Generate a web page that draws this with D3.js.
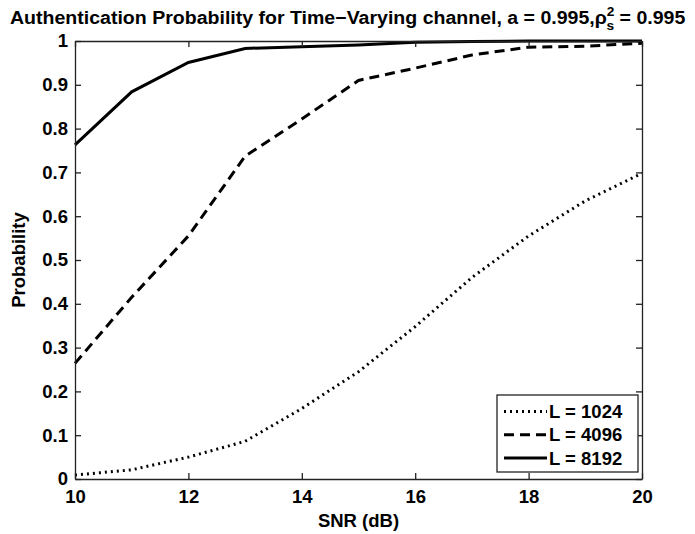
<!DOCTYPE html>
<html>
<head>
<meta charset="utf-8">
<script src="https://cdn.jsdelivr.net/npm/d3@7"></script>
<style>
    body { margin: 0; background: #fff; }
    svg { display: block; }
    text { font-family: "Liberation Sans", Arial, sans-serif; font-weight: bold; fill: #000; }
</style>
</head>
<body>
<div id="chart"></div>
<script>
// SNR values (dB)
const snr = [10, 11, 12, 13, 14, 15, 16, 17, 18, 19, 20];

// authentication probability per frame length
const probL1024 = [0.009, 0.021, 0.05, 0.086, 0.161, 0.245, 0.348, 0.46, 0.555, 0.635, 0.698];
const probL4096 = [0.264, 0.415, 0.555, 0.737, 0.822, 0.91, 0.938, 0.968, 0.986, 0.988, 0.995];
const probL8192 = [0.763, 0.884, 0.951, 0.983, 0.987, 0.991, 0.997, 0.999, 1.0, 1.0, 1.0];

const seriesNames = ['L = 1024', 'L = 4096', 'L = 8192'];
const xTicks = [10, 12, 14, 16, 18, 20];
const yTicks = [0, 0.1, 0.2, 0.3, 0.4, 0.5, 0.6, 0.7, 0.8, 0.9, 1];

const width = 695, height = 534;
const margin = {top: 41, right: 53, bottom: 55, left: 75};
const innerW = width - margin.left - margin.right;
const innerH = height - margin.top - margin.bottom;
const fontSize = '18.5px';

const svg = d3.select('#chart').append('svg')
    .attr('width', width)
    .attr('height', height);

const x = d3.scaleLinear().domain([10, 20]).range([0, innerW]);
const y = d3.scaleLinear().domain([0, 1]).range([innerH, 0]);

const g = svg.append('g')
    .attr('transform', `translate(${margin.left},${margin.top})`);

// dash styles, same order as seriesNames
const dashes = ['2,4', '10,6', null];
const allSeries = [probL1024, probL4096, probL8192];

const line = d3.line()
    .x((d, i) => x(snr[i]))
    .y(d => y(d));

g.append('g')
    .selectAll('path')
    .data(allSeries)
    .enter()
    .append('path')
    .attr('d', line)
    .attr('fill', 'none')
    .attr('stroke', '#000')
    .attr('stroke-width', 3)
    .attr('stroke-dasharray', (d, i) => dashes[i]);

// axes, MATLAB style: inward ticks on all four sides
const tickLen = 6;
const styleAxis = sel => {
    sel.select('.domain').attr('stroke', '#222').attr('stroke-width', 1.3);
    sel.selectAll('.tick line').attr('stroke', '#222').attr('stroke-width', 1.3);
    sel.selectAll('text')
        .style('font-size', fontSize)
        .style('font-weight', 'bold')
        .attr('fill', '#000');
};

g.append('g')
    .attr('transform', `translate(0,${innerH})`)
    .call(d3.axisBottom(x).tickValues(xTicks).tickSizeInner(-tickLen).tickSizeOuter(0).tickPadding(11).tickFormat(d3.format('d')))
    .call(styleAxis);

g.append('g')
    .call(d3.axisTop(x).tickValues(xTicks).tickSizeInner(-tickLen).tickSizeOuter(0).tickFormat(''))
    .call(styleAxis);

g.append('g')
    .call(d3.axisLeft(y).tickValues(yTicks).tickSizeInner(-tickLen).tickSizeOuter(0).tickPadding(7).tickFormat(d => d === 0 || d === 1 ? d3.format('d')(d) : d3.format('.1f')(d)))
    .call(styleAxis);

g.append('g')
    .attr('transform', `translate(${innerW},0)`)
    .call(d3.axisRight(y).tickValues(yTicks).tickSizeInner(-tickLen).tickSizeOuter(0).tickFormat(''))
    .call(styleAxis);

// axis labels
svg.append('text')
    .attr('x', margin.left + innerW / 2)
    .attr('y', 527)
    .attr('text-anchor', 'middle')
    .style('font-size', fontSize)
    .text('SNR (dB)');

svg.append('text')
    .attr('transform', `translate(25,${margin.top + innerH / 2}) rotate(-90)`)
    .attr('text-anchor', 'middle')
    .style('font-size', fontSize)
    .text('Probability');

// title with rho_s^2, stretched a little to the width of the original
const titleG = svg.append('g');
const title = titleG.append('text')
    .attr('x', 0)
    .attr('y', 0)
    .style('font-size', fontSize);
title.append('tspan').text('Authentication Probability for Time\u2212Varying channel, a = 0.995,\u03c1');
title.append('tspan').attr('dy', -8).style('font-size', '13px').text('2');
title.append('tspan').attr('dx', -7.5).attr('dy', 14).style('font-size', '13px').text('s');
title.append('tspan').attr('dy', -6).text(' = 0.995');
const tw = title.node().getBBox().width;
titleG.attr('transform', `translate(10,24) scale(${676 / tw},1)`);

// legend
const legend = svg.append('g')
    .attr('transform', 'translate(497,395)');

legend.append('rect')
    .attr('width', 141)
    .attr('height', 77)
    .attr('fill', '#fff')
    .attr('stroke', '#222')
    .attr('stroke-width', 1.3);

const rows = legend.selectAll('g.row')
    .data(seriesNames)
    .enter()
    .append('g')
    .attr('class', 'row')
    .attr('transform', (d, i) => `translate(0,${16.5 + i * 23.3})`);

rows.append('line')
    .attr('x1', 7)
    .attr('x2', 50)
    .attr('stroke', '#000')
    .attr('stroke-width', 3)
    .attr('stroke-dasharray', (d, i) => dashes[i]);

rows.append('text')
    .attr('x', 52)
    .attr('y', 6.5)
    .style('font-size', fontSize)
    .text(d => d);
</script>
</body>
</html>
